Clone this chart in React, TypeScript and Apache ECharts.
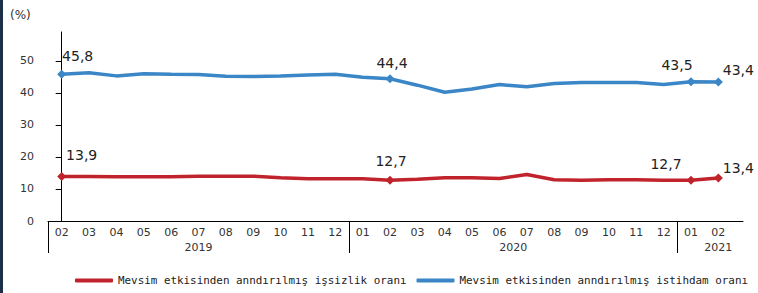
import React, { useEffect, useRef } from 'react';
import * as echarts from 'echarts';

const monthLabels = ['02','03','04','05','06','07','08','09','10','11','12','01','02','03','04','05','06','07','08','09','10','11','12','01','02'];
const yearOfMonth = ['2019','2019','2019','2019','2019','2019','2019','2019','2019','2019','2019','2020','2020','2020','2020','2020','2020','2020','2020','2020','2020','2020','2020','2021','2021'];
const yearLabels = ['2019','2020','2021'];
const unemploymentRate = [13.9,13.9,13.8,13.8,13.8,14.0,14.0,14.0,13.5,13.2,13.2,13.2,12.7,13.0,13.5,13.5,13.3,14.5,12.9,12.7,12.9,12.9,12.7,12.7,13.4];
const employmentRate = [45.8,46.3,45.3,46.0,45.8,45.7,45.2,45.1,45.3,45.6,45.8,44.9,44.4,42.4,40.2,41.2,42.6,41.9,42.9,43.2,43.2,43.2,42.6,43.5,43.4];
const highlighted = [0, 12, 23, 24];
const yTicks = [0, 10, 20, 30, 40, 50];
const seriesNames = ['Mevsim etkisinden anndırılmış işsizlik oranı', 'Mevsim etkisinden anndırılmış istihdam oranı'];

export default function App() {
  const ref = useRef<HTMLDivElement>(null);
  useEffect(() => {
    document.body.style.margin = '0';
    const chart = echarts.init(ref.current!, null, { renderer: 'svg' });
    const n = monthLabels.length;
    const boundaries: number[] = [-0.5];
    for (let i = 1; i < n; i++) if (yearOfMonth[i] !== yearOfMonth[i - 1]) boundaries.push(i - 0.5);
    const yearPos = yearLabels.map((y) => {
      const idx = yearOfMonth.map((v, i) => (v === y ? i : -1)).filter((i) => i >= 0);
      const s = idx[0], e = idx[idx.length - 1];
      return idx.length > 2 ? (s + e) / 2 : e;
    });
    const redOffsets: Record<number, number[]> = { 0: [20, -5], 12: [1, -3], 23: [-25, 0], 24: [20, 6] };
    const blueOffsets: Record<number, number[]> = { 0: [16, -2], 12: [2, 1], 23: [-14, 0], 24: [20, 5] };
    const mk = (vals: number[], offs: Record<number, number[]>) =>
      vals.map((v, i) =>
        highlighted.includes(i)
          ? { value: [i, v], symbol: 'diamond', symbolSize: 9, label: { show: true, offset: offs[i] } }
          : { value: [i, v], symbol: 'none' }
      );
    const labelFont = { fontFamily: 'DejaVu Sans', color: '#333', fontSize: 11 };
    const valueLabel = {
      position: 'top',
      fontFamily: 'DejaVu Sans',
      fontSize: 14,
      color: '#222',
      formatter: (p: any) => p.value[1].toFixed(1).replace('.', ','),
    };
    chart.setOption({
      animation: false,
      grid: { left: 48, right: 15, top: 32, bottom: 72, containLabel: false },
      graphic: [
        { type: 'text', left: 10, top: 9, style: { text: '(%)', fontFamily: 'DejaVu Sans', fontSize: 12, fill: '#333' } },
      ],
      legend: {
        left: 75,
        top: 275,
        width: 683,
        padding: 0,
        icon: 'roundRect',
        itemWidth: 38,
        itemHeight: 4,
        itemGap: 10,
        textStyle: { fontFamily: 'DejaVu Sans Mono', fontSize: 10.9, color: '#222' },
        data: seriesNames,
      },
      xAxis: [
        {
          type: 'value',
          min: -0.5,
          max: 24.9,
          splitLine: { show: false },
          axisLine: { show: true, lineStyle: { color: '#000', width: 1 } },
          axisTick: { show: true, customValues: boundaries, length: 32, lineStyle: { color: '#000', width: 1 } },
          axisLabel: {
            ...labelFont,
            margin: 6,
            customValues: monthLabels.map((_, i) => i),
            formatter: (v: number) => monthLabels[Math.round(v)] ?? '',
          },
        },
        {
          type: 'value',
          min: -0.5,
          max: 24.9,
          position: 'bottom',
          splitLine: { show: false },
          axisLine: { show: false },
          axisTick: { show: false },
          axisLabel: {
            ...labelFont,
            margin: 21,
            customValues: yearPos,
            formatter: (v: number) => {
              const k = yearPos.indexOf(v);
              return k >= 0 ? yearLabels[k] : '';
            },
          },
        },
      ],
      yAxis: {
        type: 'value',
        min: 0,
        max: 59,
        splitLine: { show: false },
        axisLine: { show: true, lineStyle: { color: '#000', width: 1 } },
        axisTick: { show: true, customValues: yTicks, length: 6, lineStyle: { color: '#000' } },
        axisLabel: { ...labelFont, margin: 14, customValues: yTicks },
      },
      series: [
        {
          name: seriesNames[0],
          type: 'line',
          xAxisIndex: 0,
          data: mk(unemploymentRate, redOffsets),
          color: '#c0232b',
          lineStyle: { width: 3.5, color: '#c0232b' },
          itemStyle: { color: '#c0232b' },
          label: valueLabel,
        },
        {
          name: seriesNames[1],
          type: 'line',
          xAxisIndex: 0,
          data: mk(employmentRate, blueOffsets),
          color: '#3b86c6',
          lineStyle: { width: 3.5, color: '#3b86c6' },
          itemStyle: { color: '#3b86c6' },
          label: valueLabel,
        },
      ],
    });
    return () => chart.dispose();
  }, []);
  return (
    <div style={{ position: 'fixed', left: 0, top: 0, width: 758, height: 293, background: '#fff' }}>
      <div ref={ref} style={{ position: 'absolute', left: 0, top: 0, width: 758, height: 293 }} />
      <div style={{ position: 'absolute', left: 0, top: 0, width: 3, height: 293, background: '#1c2f44' }} />
    </div>
  );
}
